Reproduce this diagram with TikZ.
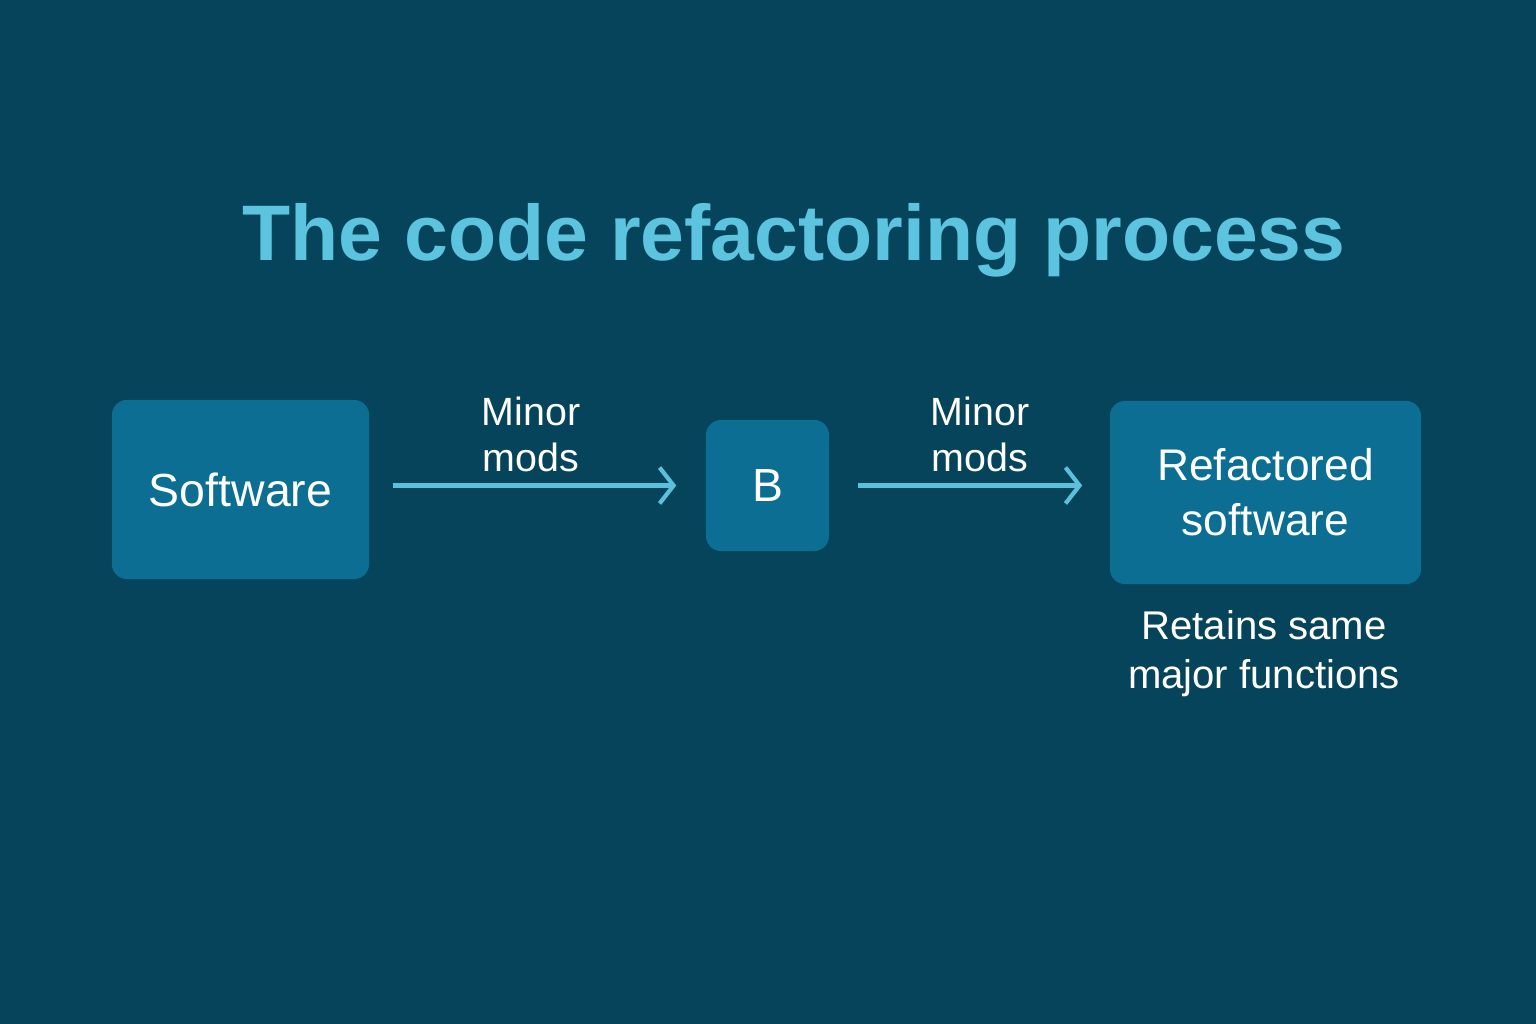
\documentclass[tikz,border=0pt]{standalone}
\usepackage{fontspec}
\setmainfont{Liberation Sans}
\usetikzlibrary{arrows.meta,calc}
\definecolor{bgc}{HTML}{05445A}
\definecolor{boxc}{HTML}{0B6E92}
\definecolor{titlec}{HTML}{5CC4DF}
\definecolor{arrc}{HTML}{5BC0DB}
\tikzset{
  procbox/.style={fill=boxc, rounded corners=0.15cm, text=white, align=center},
  arr/.style={draw=arrc, line width=0.042cm, -{Straight Barb[length=0.14cm,width=0.36cm,line width=0.042cm]}},
  lbl/.style={text=white, align=center, font=\fontsize{11.2pt}{13.1pt}\selectfont}
}
\begin{document}
\begin{tikzpicture}[x=0.01cm,y=-0.01cm]
\fill[bgc] (0,0) rectangle (1536,1024);
\useasboundingbox (0,0) rectangle (1536,1024);
\node[text=titlec, font=\bfseries\fontsize{22.4pt}{26pt}\selectfont] (title) at (794,240) {The code refactoring process};
\node[procbox, minimum width=2.57cm, minimum height=1.79cm, font=\fontsize{13.2pt}{16pt}\selectfont] (sw) at (240.5,489.5) {Software};
\node[procbox, minimum width=1.23cm, minimum height=1.31cm, font=\fontsize{13.2pt}{16pt}\selectfont] (b) at (767.5,485.5) {B};
\node[procbox, minimum width=3.11cm, minimum height=1.83cm, font=\fontsize{12.6pt}{15.6pt}\selectfont] (rs) at (1265.5,492.5) {Refactored\\software};
\draw[arr, shorten <=0.23cm, shorten >=0.29cm] (sw.east |- b.west) -- (b.west);
\draw[arr, shorten <=0.28cm, shorten >=0.27cm] (b.east) -- (rs.west |- b.east);
\node[lbl] (l1) at (531,434) {Minor\\mods};
\node[lbl] (l2) at (980,434) {Minor\\mods};
\node[lbl, font=\fontsize{11.4pt}{13.9pt}\selectfont] (ret) at (1264,654) {Retains same\\major functions};
\end{tikzpicture}
\end{document}
